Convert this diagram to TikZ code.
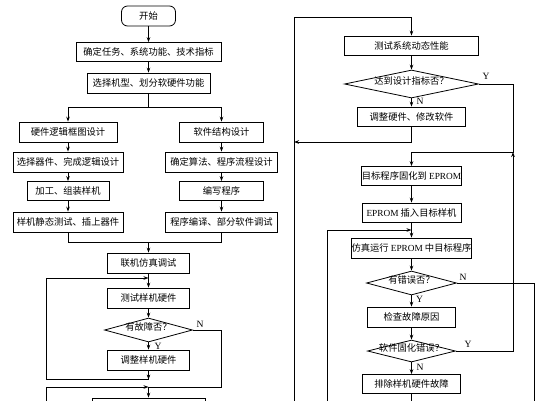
\documentclass[tikz,border=0pt]{standalone}
\usepackage{fontspec}
\setmainfont{Liberation Serif}
\newfontfamily\cjk{Noto Sans CJK SC}
\usetikzlibrary{arrows.meta,shapes.geometric}
\begin{document}
\begin{tikzpicture}[x=1pt,y=-1pt,
  line width=0.8pt,
  every node/.style={font=\cjk\fontsize{9.3}{11}\selectfont},
  box/.style={draw, minimum height=20pt, inner sep=0pt, align=center},
  dia/.style={draw, diamond, inner sep=0pt},
  arr/.style={-{Stealth[length=5pt,width=3.6pt]}},
  lab/.style={font=\rmfamily\fontsize{9.6}{11}\selectfont, inner sep=0pt}]
\useasboundingbox (0,0) rectangle (543,400);
\clip (0,0) rectangle (543,400);
% left column
\node[box, rounded corners=6pt, minimum width=54pt] (start) at (148.5,16) {开始};
\node[box, minimum width=145pt, minimum height=19pt] (t1) at (148.5,52) {确定任务、系统功能、技术指标};
\node[box, minimum width=123pt] (t2) at (148.5,83) {选择机型、划分软硬件功能};
\node[box, minimum width=98pt] (h1) at (68,132) {硬件逻辑框图设计};
\node[box, minimum width=84pt] (s1) at (221.5,132) {软件结构设计};
\node[box, minimum width=110pt] (h2) at (68,162) {选择器件、完成逻辑设计};
\node[box, minimum width=112pt] (s2) at (221.5,162) {确定算法、程序流程设计};
\node[box, minimum width=82pt, minimum height=19pt] (h3) at (68,191) {加工、组装样机};
\node[box, minimum width=84pt, minimum height=19pt] (s3) at (221.5,191) {编写程序};
\node[box, minimum width=110pt] (h4) at (68,222) {样机静态测试、插上器件};
\node[box, minimum width=112pt] (s4) at (221.5,222) {程序编译、部分软件调试};
\node[box, minimum width=82pt] (lj) at (148.5,263) {联机仿真调试};
\node[box, minimum width=82pt] (ts) at (148.5,298) {测试样机硬件};
\node[dia, minimum width=88pt, minimum height=24pt] (d1) at (148.5,330) {\smash{\makebox[0pt]{有故障否？}}};
\node[box, minimum width=82pt] (ad) at (148.5,360) {调整样机硬件};
\node[box, minimum width=113pt] (nb) at (148.5,408) {};
% right column
\node[box, minimum width=134pt, minimum height=19pt] (r1) at (411.5,45.5) {测试系统动态性能};
\node[dia, minimum width=134pt, minimum height=28pt] (rd1) at (411.5,84) {\smash{\makebox[0pt]{达到设计指标否？}}};
\node[box, minimum width=108pt, minimum height=19pt] (r2) at (411.5,116.5) {调整硬件、修改软件};
\node[box, minimum width=98pt, minimum height=19pt] (r3) at (411.5,176) {目标程序固化到 {\rmfamily EPROM}};
\node[box, minimum width=99pt, minimum height=19pt] (r4) at (411.5,212.5) {{\rmfamily EPROM} 插入目标样机};
\node[box, minimum width=114pt] (r5) at (411.5,248) {仿真运行 {\rmfamily EPROM} 中目标程序};
\node[dia, minimum width=90pt, minimum height=24pt] (rd2) at (411.5,283) {\smash{\makebox[0pt]{有错误否？}}};
\node[box, minimum width=88pt] (r6) at (411.5,317) {检查故障原因};
\node[dia, minimum width=88pt, minimum height=22pt] (rd3) at (411.5,351) {\smash{\makebox[0pt]{软件固化错误？}}};
\node[box, minimum width=98pt, minimum height=19pt] (r7) at (411.5,384) {排除样机硬件故障};
% labels
\node[lab] (ln1) at (200,324) {N};
\node[lab] (ly1) at (158,346) {Y};
\node[lab] (ly2) at (486,76) {Y};
\node[lab] (ln2) at (420,101) {N};
\node[lab] (ln3) at (463,277) {N};
\node[lab] (ly3) at (419.5,299) {Y};
\node[lab] (ly4) at (468,344) {Y};
\node[lab] (ln4) at (420,367) {N};
% left connectors
\draw[arr] (start) -- (t1);
\draw[arr] (t1) -- (t2);
\coordinate (br) at (148.5,107);
\draw (t2) -- (br);
\draw[arr] (br) -| (h1);
\draw[arr] (br) -| (s1);
\draw[arr] (h1) -- (h2);
\draw[arr] (h2) -- (h3);
\draw[arr] (h3) -- (h4);
\draw[arr] (s1) -- (s2);
\draw[arr] (s2) -- (s3);
\draw[arr] (s3) -- (s4);
\coordinate (mg) at (148.5,242);
\draw (h4) |- (mg);
\draw (s4) |- (mg);
\draw[arr] (mg) -- (lj);
\draw[arr] (lj) -- (ts);
\coordinate (l1a) at (148.5,379.5);
\coordinate (l1b) at (148.5,278);
\draw[arr] (ad) -- (l1a);
\draw[arr] (l1a) -- (46,379.5) -- (46,278) -- (l1b);
\draw[arr] (ts) -- (d1);
\draw[arr] (d1) -- (ad);
\coordinate (l2) at (148.5,387);
\draw (d1.east) -- (221,330) |- (l2);
\draw[arr] (46,420) |- (l2);
\draw[arr] (l2) -- (nb);
% right connectors
\coordinate (rtop) at (411.5,17);
\draw[arr] (294,420) |- (rtop) -- (r1);
\draw[arr] (r1) -- (rd1);
\draw[arr] (rd1) -- (r2);
\coordinate (rl1) at (294,142);
\draw[arr] (r2.south) |- (rl1);
\coordinate (rc) at (513,152);
\coordinate (rj) at (411.5,152);
\draw (rd1.east) -| (rc) -- (rj);
\draw[arr] (rj) -- (r3);
\draw[arr] (r3) -- (r4);
\draw[arr] (r4) -- (r5);
\coordinate (rl2) at (411.5,230);
\draw[arr] (327,420) |- (rl2);
\draw[arr] (r5) -- (rd2);
\draw (rd2.east) -| (534,420);
\draw[arr] (rd2) -- (r6);
\draw[arr] (r6) -- (rd3);
\draw[arr] (rd3.east) -| (rc);
\draw[arr] (rd3) -- (r7);
\draw (r7) -- (411.5,420);
\end{tikzpicture}
\end{document}
